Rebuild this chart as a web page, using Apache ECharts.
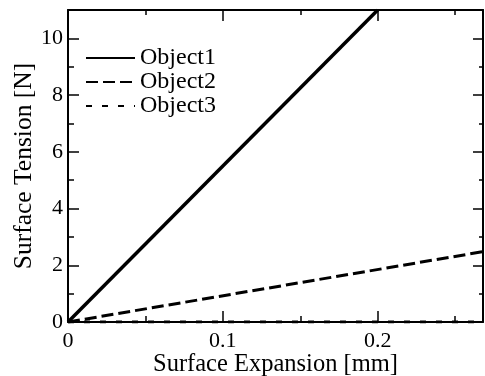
<!DOCTYPE html>
<html><head><meta charset="utf-8">
<script src="https://cdn.jsdelivr.net/npm/echarts@6/dist/echarts.min.js"></script>
<style>html,body{margin:0;padding:0;background:#fff}#c{width:485px;height:376px}</style>
</head><body><div id="c"></div>
<script>
const seriesNames = ['Object1', 'Object2', 'Object3'];
const object1 = [[0, 0], [0.2, 11]];
const object2 = [[0, 0], [0.268, 2.48]];
const object3 = [[0, 0], [0.268, 0]];
const xTickLabels = ['0', '0.1', '0.2'];
const yTickLabels = ['0', '2', '4', '6', '8', '10'];
const xMin = 0, xMax = 0.268, yMin = 0, yMax = 11;
const xTitle = 'Surface Expansion [mm]';
const yTitle = 'Surface Tension [N]';

const FONT = 'Liberation Serif';
const black = '#000';

function labelFor(list) {
  return function (v) {
    for (const s of list) { if (Math.abs(Number(s) - v) < 1e-9) return s; }
    return '';
  };
}
function xAx(grid, pos, interval, len, extra) {
  return Object.assign({
    type: 'value', gridIndex: grid, position: pos, min: xMin, max: xMax, interval: interval,
    axisLine: { show: grid === 0, onZero: false, lineStyle: { color: black, width: 2 } },
    axisTick: { show: true, inside: true, length: len, lineStyle: { color: black, width: 1.5 } },
    axisLabel: { show: false },
    splitLine: { show: false }
  }, extra || {});
}
function yAx(grid, pos, interval, len, extra) {
  return Object.assign({
    type: 'value', gridIndex: grid, position: pos, min: yMin, max: yMax, interval: interval,
    axisLine: { show: grid === 0, onZero: false, lineStyle: { color: black, width: 2 } },
    axisTick: { show: true, inside: true, length: len, lineStyle: { color: black, width: 1.5 } },
    axisLabel: { show: false },
    splitLine: { show: false }
  }, extra || {});
}
const gridRect = { left: 68, top: 10, right: 2, bottom: 54, containLabel: false, outerBoundsMode: 'none' };
const dashes = ['solid', [12, 5], [6, 10]];
const datas = [object1, object2, object3];

const option = {
  animation: false,
  backgroundColor: '#fff',
  grid: [Object.assign({}, gridRect), Object.assign({}, gridRect)],
  legend: {
    orient: 'vertical', left: 80, top: 41, itemWidth: 49, itemHeight: 14, itemGap: 0,
    data: seriesNames,
    itemStyle: { opacity: 0 },
    textStyle: { fontFamily: FONT, fontSize: 24, color: black, lineHeight: 23.5 }
  },
  xAxis: [
    xAx(0, 'bottom', 0.05, 6, {
      axisLabel: { show: true, formatter: labelFor(xTickLabels), showMaxLabel: false, fontFamily: FONT, fontSize: 22, color: black, margin: 8 },
      name: xTitle, nameLocation: 'middle', nameGap: 30, nameMoveOverlap: false,
      nameTextStyle: { fontFamily: FONT, fontSize: 24.5, color: black }
    }),
    xAx(0, 'top', 0.05, 5),
    xAx(1, 'bottom', 0.1, 11),
    xAx(1, 'top', 0.1, 11)
  ],
  yAxis: [
    yAx(0, 'left', 1, 6, {
      axisLabel: { show: true, formatter: labelFor(yTickLabels), showMaxLabel: false, fontFamily: FONT, fontSize: 22, color: black, margin: 5 },
      name: yTitle, nameLocation: 'middle', nameGap: 31, nameMoveOverlap: false,
      nameTextStyle: { fontFamily: FONT, fontSize: 25.5, color: black }
    }),
    yAx(0, 'right', 1, 4),
    yAx(1, 'left', 2, 11),
    yAx(1, 'right', 2, 10)
  ],
  series: seriesNames.map((n, i) => ({
    name: n, type: 'line', xAxisIndex: 0, yAxisIndex: 0, data: datas[i],
    symbol: 'none', clip: true,
    lineStyle: { color: black, width: i === 0 ? 3.5 : 3, type: dashes[i] },
    itemStyle: { color: black }
  }))
};
const chart = echarts.init(document.getElementById('c'), null, { renderer: 'canvas' });
chart.setOption(option);
</script></body></html>
